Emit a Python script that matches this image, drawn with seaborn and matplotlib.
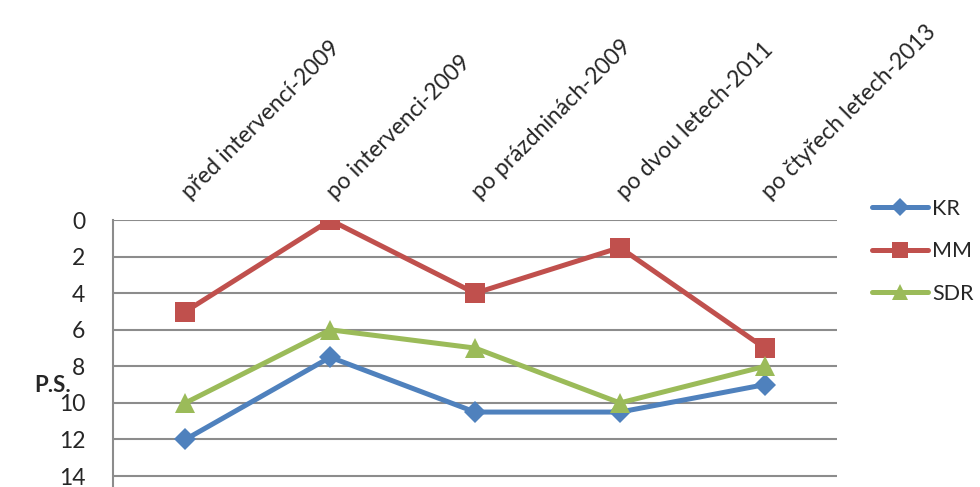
import matplotlib
matplotlib.use("Agg")
import matplotlib.pyplot as plt
import matplotlib.transforms as mtrans
import seaborn as sns
import pandas as pd

# data
categories = ["před intervencí-2009", "po intervenci-2009", "po prázdninách-2009",
              "po dvou letech-2011", "po čtyřech letech-2013"]
kr = [12, 7.5, 10.5, 10.5, 9]
mm = [5, 0, 4, 1.5, 7]
sdr = [10, 6, 7, 10, 8]
series = ["KR", "MM", "SDR"]
yticks = [0, 2, 4, 6, 8, 10, 12, 14]

colors = {"KR": "#4F81BD", "MM": "#C0504D", "SDR": "#9BBB59"}
markers = {"KR": "D", "MM": "s", "SDR": "^"}
msize = {"KR": 11, "MM": 14, "SDR": 14}

sns.set_style("white")
plt.rcParams["font.family"] = ["Lato", "DejaVu Sans"]

df = pd.DataFrame({"x": categories * 3,
                   "val": kr + mm + sdr,
                   "serie": [s for s in series for _ in categories]})

fig = plt.figure(figsize=(9.8, 4.87), dpi=100)
ax = fig.add_axes([0.1153, 0.0, 0.739, 0.548])

for s in series:
    d = df[df["serie"] == s]
    sns.lineplot(x=range(len(categories)), y=d["val"].values, ax=ax, label=s,
                 color=colors[s], marker=markers[s], markersize=msize[s],
                 markeredgewidth=0, linewidth=3.6)

ax.set_xlim(-0.5, 4.5)
ax.set_ylim(14.6, 0)
ax.set_yticks(yticks)
ax.set_yticklabels([str(t) for t in yticks], fontsize=16.5)
ax.set_xticks(range(len(categories)))
ax.xaxis.tick_top()
ax.set_xticklabels(categories, rotation=45, ha="left", va="bottom",
                   rotation_mode="anchor", fontsize=16.5)
ax.tick_params(axis="x", length=0, pad=12)
ax.tick_params(axis="y", length=0, pad=20)
# nudge the slanted labels a bit right
shift = mtrans.ScaledTranslation(8 / 100, 0, fig.dpi_scale_trans)
for lab in ax.get_xticklabels():
    lab.set_transform(lab.get_transform() + shift)

ax.grid(axis="y", color="#8c8c8c", linewidth=1.5)
ax.set_axisbelow(True)
for side in ["top", "right", "bottom"]:
    ax.spines[side].set_visible(False)
ax.spines["left"].set_color("#8c8c8c")
ax.spines["left"].set_linewidth(1.5)

ax.set_xlabel("")
ax.set_ylabel("P.S.", rotation=0, fontsize=16, fontweight="bold", ha="center", va="center")
ax.yaxis.set_label_coords(-0.084, 0.382)

ax.legend(loc="upper left", bbox_to_anchor=(0.881, 0.61), bbox_transform=fig.transFigure,
          frameon=False, fontsize=15.5, handlelength=2.6, handletextpad=0.2,
          labelspacing=1.05, markerscale=0.85, borderaxespad=0)

fig.savefig("out.png", dpi=100)
